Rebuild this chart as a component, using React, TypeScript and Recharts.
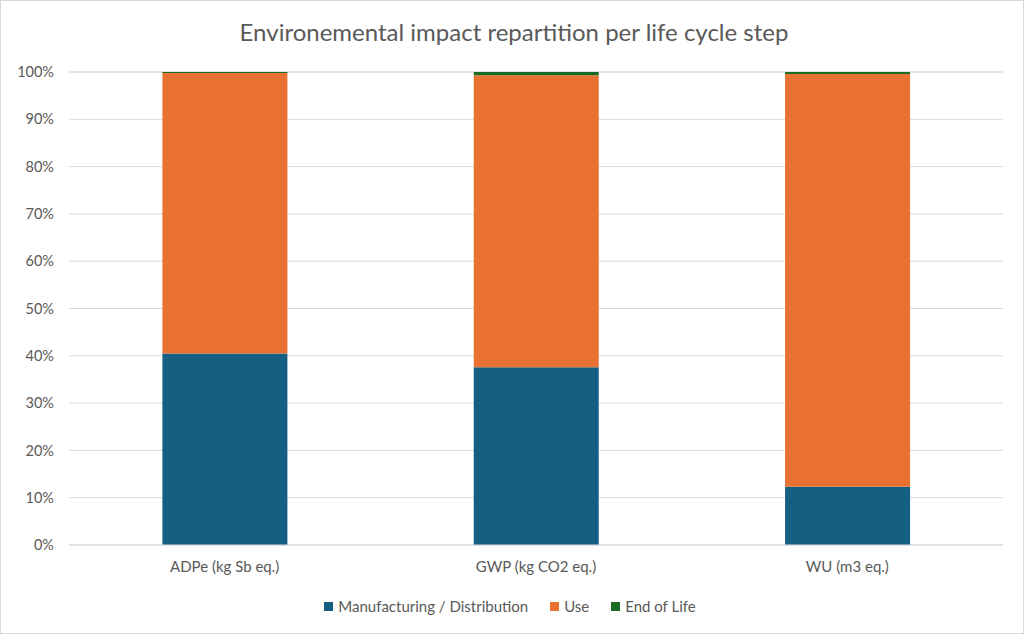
import React from 'react';
import { BarChart, Bar, XAxis, YAxis, CartesianGrid, Legend } from 'recharts';

const categories = ['ADPe (kg Sb eq.)', 'GWP (kg CO2 eq.)', 'WU (m3 eq.)'];
const manufacturing = [40.5, 37.6, 12.3];
const use = [59.3, 61.7, 87.3];
const endOfLife = [0.2, 0.7, 0.4];
const yTicks = [0, 10, 20, 30, 40, 50, 60, 70, 80, 90, 100];

const seriesNames = ['Manufacturing / Distribution', 'Use', 'End of Life'];
const seriesColors = ['#156082', '#E97132', '#196B24'];

const FONT = 'Lato, "Open Sans", sans-serif';
const TEXT = '#595959';

const data = categories.map((name, i) => ({
  name,
  manufacturing: manufacturing[i],
  use: use[i],
  endOfLife: endOfLife[i],
}));

const LegendContent = () => (
  <div
    style={{
      display: 'flex',
      justifyContent: 'center',
      alignItems: 'center',
      fontSize: 15,
      fontFamily: FONT,
      color: TEXT,
      paddingLeft: 8,
    }}
  >
    {seriesNames.map((n, i) => (
      <div key={n} style={{ display: 'flex', alignItems: 'center', marginRight: i < 2 ? 22 : 0 }}>
        <span style={{ width: 9, height: 9, background: seriesColors[i], marginRight: 5, display: 'inline-block' }} />
        <span>{n}</span>
      </div>
    ))}
  </div>
);

export default function App() {
  return (
    <div
      style={{
        position: 'fixed',
        left: 0,
        top: 0,
        width: 1022,
        height: 632,
        border: '1px solid #d9d9d9',
        background: '#fff',
        fontFamily: FONT,
      }}
    >
      <div
        style={{
          position: 'absolute',
          top: 16,
          width: '100%',
          textAlign: 'center',
          fontSize: 24,
          color: TEXT,
          paddingLeft: 2,
        }}
      >
        Environemental impact repartition per life cycle step
      </div>
      <BarChart
        width={1022}
        height={632}
        data={data}
        margin={{ top: 71, right: 20, bottom: 0, left: 8 }}
        barCategoryGap="30%"
      >
        <CartesianGrid vertical={false} stroke="#d9d9d9" />
        <XAxis
          dataKey="name"
          axisLine={{ stroke: '#d9d9d9' }}
          tickLine={false}
          tick={{ fill: TEXT, fontSize: 15, fontFamily: FONT }}
          tickMargin={10}
          height={30}
        />
        <YAxis
          domain={[0, 100]}
          ticks={yTicks}
          tickFormatter={(v) => `${v}%`}
          axisLine={false}
          tickLine={false}
          tick={{ fill: TEXT, fontSize: 14.5, fontFamily: FONT }}
          tickMargin={9}
          width={60}
        />
        <Legend
          verticalAlign="bottom"
          height={36}
          wrapperStyle={{ paddingTop: 22 }}
          content={<LegendContent />}
        />
        <Bar dataKey="manufacturing" name={seriesNames[0]} stackId="a" fill={seriesColors[0]} isAnimationActive={false} />
        <Bar dataKey="use" name={seriesNames[1]} stackId="a" fill={seriesColors[1]} isAnimationActive={false} />
        <Bar dataKey="endOfLife" name={seriesNames[2]} stackId="a" fill={seriesColors[2]} isAnimationActive={false} />
      </BarChart>
    </div>
  );
}
